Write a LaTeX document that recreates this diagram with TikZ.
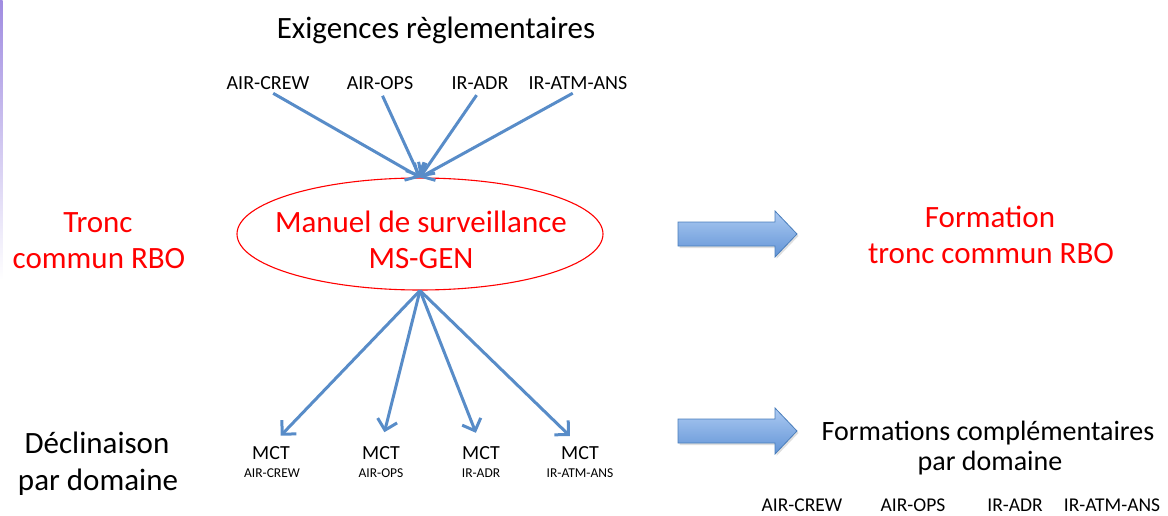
\documentclass[tikz,border=0pt]{standalone}
\usepackage{fontspec}
\setmainfont{Carlito}
\usetikzlibrary{arrows.meta,shapes.geometric,shadows}
\definecolor{arrblue}{RGB}{88,140,200}
\definecolor{blkborder}{RGB}{74,126,187}
\definecolor{blktop}{RGB}{172,202,242}
\definecolor{blkbot}{RGB}{98,148,214}
\definecolor{edgepurple}{RGB}{160,140,225}
\begin{document}
\begin{tikzpicture}[x=1pt,y=-1pt,
  txt/.style={inner sep=0pt,anchor=base},
  huge/.style={txt,font=\fontsize{31}{36}\selectfont},
  mid/.style={txt,font=\fontsize{28}{33}\selectfont},
  lbl/.style={txt,font=\fontsize{20}{24}\selectfont},
  blbl/.style={txt,font=\fontsize{19.5}{23}\selectfont},
  tiny/.style={txt,font=\fontsize{13.5}{16}\selectfont},
  redtxt/.style={text=red},
  conn/.style={draw=arrblue,line width=3pt,-{Straight Barb[length=10pt,width=20pt]}},
  blockarrow/.style={draw=blkborder,line width=0.8pt,top color=blktop,bottom color=blkbot,
     drop shadow={shadow xshift=1.5pt,shadow yshift=-2pt,opacity=0.25}},
  ellipsebox/.style={draw=red,line width=1.1pt,ellipse,inner sep=0pt,minimum width=366pt,minimum height=112pt}
]
\useasboundingbox (0,0) rectangle (1168,516);
% faint purple edge on the left
\shade[top color=edgepurple,bottom color=white] (0,0) rectangle (2.5,280);

% title
\node[huge] (title) at (436,39) {Exigences règlementaires};

% top labels
\node[lbl] (t1) at (268,90) {AIR-CREW};
\node[lbl] (t2) at (380,90) {AIR-OPS};
\node[lbl] (t3) at (480,90) {IR-ADR};
\node[lbl] (t4) at (578,90) {IR-ATM-ANS};

% ellipse
\node[ellipsebox] (ms) at (420,234) {};
\node[huge,redtxt] (ms1) at (421,233) {Manuel de surveillance};
\node[huge,redtxt] (ms2) at (421,268) {MS-GEN};

% left texts
\node[huge,redtxt] (tr1) at (98,233) {Tronc};
\node[huge,redtxt] (tr2) at (99,268) {commun RBO};
\node[huge] (dc1) at (97,453) {Déclinaison};
\node[huge] (dc2) at (98,490) {par domaine};

% right texts
\node[huge,redtxt] (f1) at (990,227) {Formation};
\node[huge,redtxt] (f2) at (991,263) {tronc commun RBO};
\node[mid] (fc1) at (988,440) {Formations complémentaires};
\node[mid] (fc2) at (990,470) {par domaine};

% bottom right labels
\node[blbl] (b1) at (802,511) {AIR-CREW};
\node[blbl] (b2) at (913,511) {AIR-OPS};
\node[blbl] (b3) at (1015,511) {IR-ADR};
\node[blbl] (b4) at (1112,511) {IR-ATM-ANS};

% MCT labels
\node[lbl] (m1) at (271,459) {MCT};
\node[lbl] (m2) at (381,459) {MCT};
\node[lbl] (m3) at (481,459) {MCT};
\node[lbl] (m4) at (580,459) {MCT};
\node[tiny] (s1) at (272,477) {AIR-CREW};
\node[tiny] (s2) at (381,477) {AIR-OPS};
\node[tiny] (s3) at (481,477) {IR-ADR};
\node[tiny] (s4) at (580,477) {IR-ATM-ANS};

% connectors top
\foreach \n in {t1,t2,t3,t4}
  \draw[conn,shorten <=6pt] (\n.south) -- (ms.north);
% connectors bottom
\foreach \n in {m1,m2,m3,m4}
  \draw[conn,shorten >=14pt] (ms.south) -- (\n.north);

% block arrows
\path[blockarrow] (678,222) -- (775,222) -- (775,211) -- (797,234) -- (775,257) -- (775,246) -- (678,246) -- cycle;
\path[blockarrow] (678,419) -- (775,419) -- (775,408) -- (797,431) -- (775,454) -- (775,443) -- (678,443) -- cycle;
\end{tikzpicture}
\end{document}
